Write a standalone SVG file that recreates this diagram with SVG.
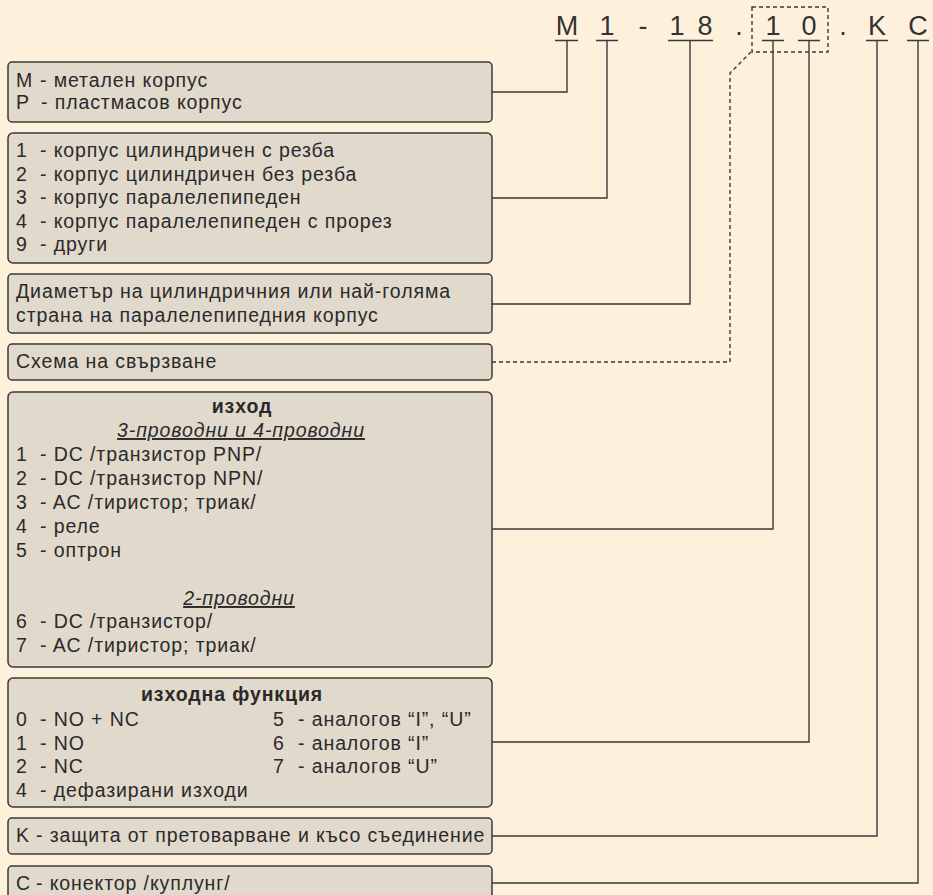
<svg xmlns="http://www.w3.org/2000/svg" width="933" height="895" viewBox="0 0 933 895">
<style>
.bg{fill:#FEF1DC}
.box{fill:#E1D9CB;stroke:#3a3a3a;stroke-width:1.5}
.t{font-family:"Liberation Sans",Arial,sans-serif;font-size:19.5px;letter-spacing:0.9px;fill:#2a2a2a}
.b{font-weight:bold;text-anchor:middle}
.i{font-style:italic;text-decoration:underline;text-anchor:middle}
.code{font-family:"Liberation Sans",Arial,sans-serif;font-size:27px;fill:#333;text-anchor:middle}
.ln{fill:none;stroke:#3a3a3a;stroke-width:1.4}
.dash{fill:none;stroke:#3a3a3a;stroke-width:1.4;stroke-dasharray:4 3}
</style>
<rect class="bg" x="0" y="0" width="933" height="895"/>
<g id="code">
<text class="code" x="567" y="35">M</text>
<text class="code" x="607" y="35">1</text>
<text class="code" x="643" y="35">-</text>
<text class="code" x="677" y="35">1</text>
<text class="code" x="705" y="35">8</text>
<text class="code" x="739" y="35">.</text>
<text class="code" x="773" y="35">1</text>
<text class="code" x="809" y="35">0</text>
<text class="code" x="843" y="35">.</text>
<text class="code" x="877" y="35">K</text>
<text class="code" x="918" y="35">C</text>
<rect class="dash" x="752" y="7" width="76" height="45"/>
</g>
<g id="connectors">
<path class="ln" d="M555,40.5H578 M596,40.5H618 M668,40.5H713 M762,40.5H784 M798,40.5H820 M866,40.5H888 M907,40.5H929"/>
<polyline class="ln" points="492,92 567,92 567,40.5"/>
<polyline class="ln" points="492,198 607,198 607,40.5"/>
<polyline class="ln" points="492,304 690,304 690,40.5"/>
<polyline class="dash" points="492,362 730,362 730,73 751,52"/>
<polyline class="ln" points="492,529 773,529 773,40.5"/>
<polyline class="ln" points="492,742 809,742 809,40.5"/>
<polyline class="ln" points="492,836 877,836 877,40.5"/>
<polyline class="ln" points="492,883 918,883 918,40.5"/>
</g>
<g id="box1">
<rect class="box" x="8" y="62" width="484" height="60" rx="4"/>
<text class="t" y="87"><tspan x="16">M</tspan><tspan x="40">- метален корпус</tspan></text>
<text class="t" y="109"><tspan x="16">P</tspan><tspan x="41">- пластмасов корпус</tspan></text>
</g>
<g id="box2">
<rect class="box" x="8" y="133" width="484" height="130" rx="5"/>
<text class="t" y="157"><tspan x="16">1</tspan><tspan x="40">- корпус цилиндричен с резба</tspan></text>
<text class="t" y="180.5"><tspan x="16">2</tspan><tspan x="40">- корпус цилиндричен без резба</tspan></text>
<text class="t" y="204"><tspan x="16">3</tspan><tspan x="40">- корпус паралелепипеден</tspan></text>
<text class="t" y="227.5"><tspan x="16">4</tspan><tspan x="40">- корпус паралелепипеден с прорез</tspan></text>
<text class="t" y="251"><tspan x="16">9</tspan><tspan x="40">- други</tspan></text>
</g>
<g id="box3">
<rect class="box" x="8" y="274" width="484" height="59" rx="4"/>
<text class="t" x="16" y="298">Диаметър на цилиндричния или най-голяма</text>
<text class="t" x="16" y="322">страна на паралелепипедния корпус</text>
</g>
<g id="box4">
<rect class="box" x="8" y="344" width="484" height="36" rx="4"/>
<text class="t" x="16" y="368">Схема на свързване</text>
</g>
<g id="box5">
<rect class="box" x="8" y="392" width="484" height="275" rx="5"/>
<text class="t b" x="242" y="413">изход</text>
<text class="t i" x="241" y="437">3-проводни и 4-проводни</text>
<text class="t" y="461"><tspan x="16">1</tspan><tspan x="40">- DC /транзистор PNP/</tspan></text>
<text class="t" y="485"><tspan x="16">2</tspan><tspan x="40">- DC /транзистор NPN/</tspan></text>
<text class="t" y="509"><tspan x="16">3</tspan><tspan x="40">- AC /тиристор; триак/</tspan></text>
<text class="t" y="533"><tspan x="16">4</tspan><tspan x="40">- реле</tspan></text>
<text class="t" y="557"><tspan x="16">5</tspan><tspan x="40">- оптрон</tspan></text>
<text class="t i" x="239" y="605">2-проводни</text>
<text class="t" y="628"><tspan x="16">6</tspan><tspan x="40">- DC /транзистор/</tspan></text>
<text class="t" y="652"><tspan x="16">7</tspan><tspan x="40">- AC /тиристор; триак/</tspan></text>
</g>
<g id="box6">
<rect class="box" x="8" y="678" width="484" height="129" rx="5"/>
<text class="t b" x="232" y="701">изходна функция</text>
<text class="t" y="726"><tspan x="16">0</tspan><tspan x="40">- NO + NC</tspan></text>
<text class="t" y="750"><tspan x="16">1</tspan><tspan x="40">- NO</tspan></text>
<text class="t" y="773"><tspan x="16">2</tspan><tspan x="40">- NC</tspan></text>
<text class="t" y="797"><tspan x="16">4</tspan><tspan x="40">- дефазирани изходи</tspan></text>
<text class="t" y="726"><tspan x="273">5</tspan><tspan x="298">- аналогов “I”, “U”</tspan></text>
<text class="t" y="750"><tspan x="273">6</tspan><tspan x="298">- аналогов “I”</tspan></text>
<text class="t" y="773"><tspan x="273">7</tspan><tspan x="298">- аналогов “U”</tspan></text>
</g>
<g id="box7">
<rect class="box" x="8" y="818" width="484" height="36" rx="4"/>
<text class="t" y="842"><tspan x="16">K</tspan><tspan x="36">- защита от претоварване и късо съединение</tspan></text>
</g>
<g id="box8">
<rect class="box" x="8" y="866" width="484" height="40" rx="4"/>
<text class="t" y="890"><tspan x="16">C</tspan><tspan x="36">- конектор /куплунг/</tspan></text>
</g>
</svg>
